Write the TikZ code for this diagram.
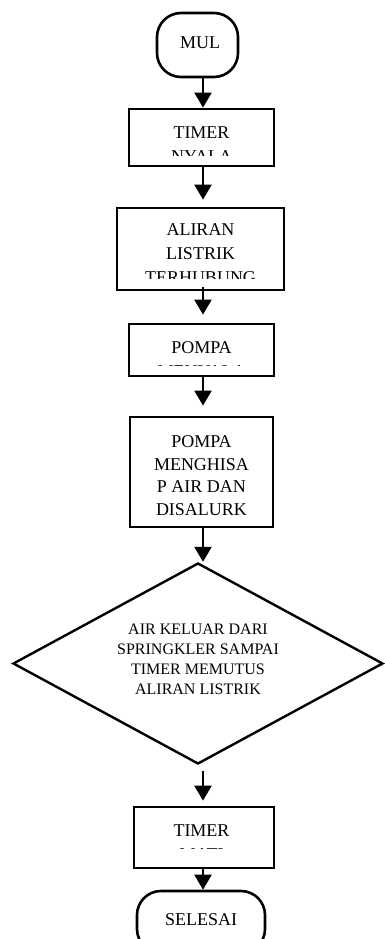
\documentclass[tikz,border=0pt]{standalone}
\usepackage{fontspec}
\setmainfont{Liberation Serif}
\usetikzlibrary{arrows.meta,shapes.geometric}

\tikzset{
  box/.style={draw, line width=2.8pt, inner sep=0pt},
  term/.style={draw, line width=2.6pt, rounded corners=24pt, inner sep=0pt, font=\fontsize{18}{24}\selectfont},
  cond/.style={draw, diamond, line width=2.4pt, inner sep=0pt, aspect=1.84},
  txt/.style={align=center, inner sep=0pt, font=\fontsize{18}{24}\selectfont},
  arr/.style={line width=2.4pt, -{Triangle[width=17pt,length=15pt]}},
}

\begin{document}
\begin{tikzpicture}[x=1pt, y=-1pt]
\useasboundingbox (0,0) rectangle (384,939);

% Draw Shapes
\node[term, minimum width=81pt, minimum height=64pt] (mulai) at (197.5,45) {};
\node[box, minimum width=145pt, minimum height=57pt] (nyala) at (201.5,137.5) {};
\node[box, minimum width=167pt, minimum height=82pt] (aliran) at (200.5,249) {};
\node[box, minimum width=145pt, minimum height=52pt] (menyala) at (201.5,350) {};
\node[box, minimum width=143pt, minimum height=110pt] (hisap) at (201.5,472) {};
\node[cond, minimum width=370pt, minimum height=201pt] (cek) at (198,663.5) {};
\node[box, minimum width=140pt, minimum height=61pt] (mati) at (204,837.5) {};
\node[term, minimum width=128pt, minimum height=62pt, text depth=5.8pt] (selesai) at (201,922) {SELESAI};

% Texts cut by their boxes
\coordinate (ax) at (203,0);
\coordinate (cutmulai) at (0,60);
\coordinate (cutnyala) at (0,155.5);
\coordinate (cutaliran) at (0,278);
\coordinate (cutmenyala) at (0,365.5);
\coordinate (cutmati) at (0,848.5);

\begin{scope}
\clip (mulai.north west) rectangle (mulai.east |- cutmulai);
\node[txt, anchor=north] (mulaitext) at (200,36.2) {MUL\\AI};
\end{scope}
\begin{scope}
\clip (nyala.north west) rectangle (nyala.east |- cutnyala);
\node[txt, anchor=north] (nyalatext) at (201.5,126.2) {TIMER\\NYALA};
\end{scope}
\begin{scope}
\clip (aliran.north west) rectangle (aliran.east |- cutaliran);
\node[txt, anchor=north] (alirantext) at (200.5,223.2) {ALIRAN\\LISTRIK\\TERHUBUNG};
\end{scope}
\begin{scope}
\clip (menyala.north west) rectangle (menyala.east |- cutmenyala);
\node[txt, anchor=north] (menyalatext) at (201.5,341.2) {POMPA\\MENYALA};
\end{scope}
\node[txt, anchor=north, font=\fontsize{18}{22.7}\selectfont] (hisaptext) at (201.5,435.2) {POMPA\\MENGHISA\\P AIR DAN\\DISALURK};
\node[txt, font=\fontsize{16}{20}\selectfont] (cektext) at (198,659) {AIR KELUAR DARI\\SPRINGKLER SAMPAI\\TIMER MEMUTUS\\ALIRAN LISTRIK};
\begin{scope}
\clip (mati.north west) rectangle (mati.east |- cutmati);
\node[txt, anchor=north] (matitext) at (201.5,824.2) {TIMER\\MATI};
\end{scope}

% Draw Arrows
\draw[arr] (mulai.south -| ax) -- (nyala.north -| ax);
\draw[arr, shorten >=7pt] (nyala.south -| ax) -- (aliran.north -| ax);
\draw[arr, shorten >=8pt, shorten <=-4pt] (aliran.south -| ax) -- (menyala.north -| ax);
\draw[arr, shorten >=10pt] (menyala.south -| ax) -- (hisap.north -| ax);
\draw[arr] (hisap.south -| ax) -- (cek.north -| ax);
\draw[arr, shorten <=6pt, shorten >=5pt] (cek.south -| ax) -- (mati.north -| ax);
\draw[arr] (mati.south -| ax) -- (selesai.north -| ax);
\end{tikzpicture}
\end{document}
